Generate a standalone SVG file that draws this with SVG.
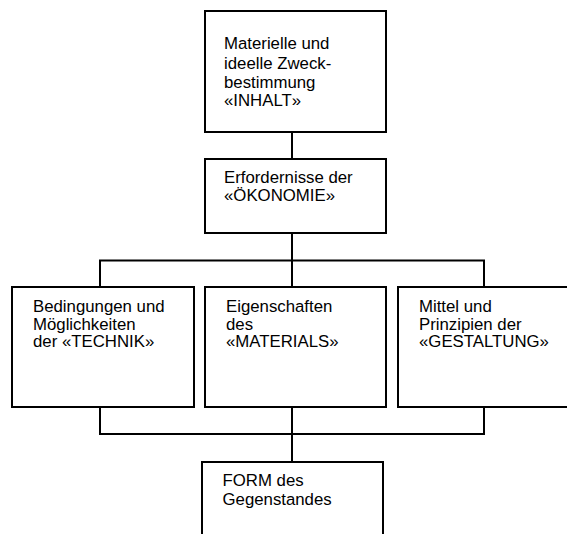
<svg xmlns="http://www.w3.org/2000/svg" width="567" height="534" viewBox="0 0 567 534">
  <style>
    .box { fill: #fff; stroke: #000; stroke-width: 2; }
    .wire { fill: none; stroke: #000; stroke-width: 2; }
    text { font-family: "Liberation Sans", Arial, sans-serif; font-size: 16.8px; fill: #000; }
  </style>
  <rect width="567" height="534" fill="#fff"/>

  <!-- connectors -->
  <g id="connectors">
    <line class="wire" x1="292" y1="131" x2="292" y2="159"/>
    <line class="wire" x1="292" y1="233" x2="292" y2="287"/>
    <polyline class="wire" points="100,287 100,260.5 484,260.5 484,287"/>
    <polyline class="wire" points="100,407 100,434 484,434 484,407"/>
    <line class="wire" x1="292" y1="407" x2="292" y2="462"/>
  </g>

  <g id="inhalt">
    <rect class="box" x="205" y="11" width="181" height="121"/>
    <text x="224" y="49">Materielle und</text>
    <text x="224" y="69">ideelle Zweck-</text>
    <text x="224" y="88">bestimmung</text>
    <text x="224" y="106">«INHALT»</text>
  </g>

  <g id="oekonomie">
    <rect class="box" x="205" y="159" width="181" height="74"/>
    <text x="224" y="183">Erfordernisse der</text>
    <text x="224" y="201">«ÖKONOMIE»</text>
  </g>

  <g id="technik">
    <rect class="box" x="12" y="287" width="182" height="120"/>
    <text x="33" y="312">Bedingungen und</text>
    <text x="33" y="329.5">Möglichkeiten</text>
    <text x="33" y="347">der «TECHNIK»</text>
  </g>

  <g id="material">
    <rect class="box" x="205" y="287" width="181" height="120"/>
    <text x="226" y="312">Eigenschaften</text>
    <text x="226" y="329.5">des</text>
    <text x="226" y="347">«MATERIALS»</text>
  </g>

  <g id="gestaltung">
    <rect class="box" x="398" y="287" width="182" height="120"/>
    <text x="419" y="312">Mittel und</text>
    <text x="419" y="329.5">Prinzipien der</text>
    <text x="419" y="347">«GESTALTUNG»</text>
  </g>

  <g id="form">
    <rect class="box" x="202" y="462" width="181" height="90"/>
    <text x="222.5" y="486">FORM des</text>
    <text x="222.5" y="505">Gegenstandes</text>
  </g>
</svg>
